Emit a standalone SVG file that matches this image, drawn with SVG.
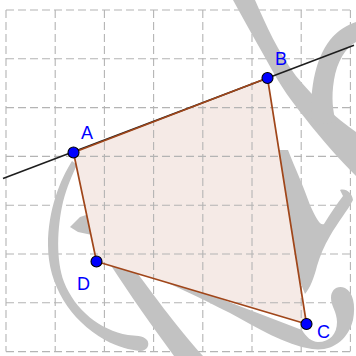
<svg xmlns="http://www.w3.org/2000/svg" xmlns:xlink="http://www.w3.org/1999/xlink" width="356" height="356" viewBox="0 0 356 356">
<style>
.grid line{stroke:#b4b4b4;stroke-width:1.1;stroke-dasharray:8 4}
.wm{fill:#c2c2c2}
.edge{stroke:#a0461a;stroke-width:1.7;fill:none;stroke-linejoin:round}
.pt{fill:#0000ff;stroke:#000;stroke-width:1.1}
.lbl{font-family:"Liberation Sans",Arial,sans-serif;font-size:18px;fill:#0000ff}
</style>
<defs>
<g id="gridlines" class="grid">
<line x1="6" y1="10" x2="6" y2="351.6"/>
<line x1="55.2" y1="10" x2="55.2" y2="351.6"/>
<line x1="104.4" y1="10" x2="104.4" y2="351.6"/>
<line x1="153.6" y1="10" x2="153.6" y2="351.6"/>
<line x1="202.8" y1="10" x2="202.8" y2="351.6"/>
<line x1="252" y1="10" x2="252" y2="351.6"/>
<line x1="301.2" y1="10" x2="301.2" y2="351.6"/>
<line x1="350.4" y1="10" x2="350.4" y2="351.6"/>
<line x1="6" y1="10" x2="350.4" y2="10"/>
<line x1="6" y1="58.8" x2="350.4" y2="58.8"/>
<line x1="6" y1="107.6" x2="350.4" y2="107.6"/>
<line x1="6" y1="156.4" x2="350.4" y2="156.4"/>
<line x1="6" y1="205.2" x2="350.4" y2="205.2"/>
<line x1="6" y1="254" x2="350.4" y2="254"/>
<line x1="6" y1="302.8" x2="350.4" y2="302.8"/>
<line x1="6" y1="351.6" x2="350.4" y2="351.6"/>
</g>
<clipPath id="polyclip"><polygon points="73.5,152.5 267.5,78 306.5,324 96.5,261.5"/></clipPath>
</defs>
<rect width="356" height="356" fill="#fff"/>
<use xlink:href="#gridlines"/>
<g id="watermark">
<path class="wm" d="M233,0 L255,0 C266,25 278,52 296,76 C316,100 336,118 356,132 L356,176 C340,160 322,140 305,118 C292,102 280,85 272,70 C258,45 245,22 233,0 Z"/>
<path class="wm" d="M312,125 C309,95 314,60 330,40 C338,30 347,25 356,22 L356,42 C345,48 337,62 334,80 C331,98 333,112 336,122 Z"/>
<path class="wm" d="M276,150 L288,150 C295,168 303,185 310,205 C316,218 320,226 324,224 C330,214 337,204 343,196 L340,190 C346,188 352,193 353,200 C348,210 338,222 330,236 C324,246 320,256 317,266 C314,278 310,288 305,294 C300,282 296,270 293,256 Z"/>
<path class="wm" d="M140,272 C170,283 200,298 230,313 C258,328 285,345 312,349 C332,352 348,340 353,320 C356,305 353,292 345,288 C337,285 331,290 331,298 C331,306 337,312 337,322 C337,334 330,342 318,342 C312,342 306,337 302,330 L140,268 Z"/>
<path class="wm" d="M110,264 L132,266 C150,290 175,325 203,356 L174,356 C155,330 130,295 110,264 Z"/>
<path class="wm" d="M72,161 C60,180 48,210 48,245 C48,285 70,320 105,340 C118,347 130,350 140,351 C148,351 150,344 147,340 C143,335 135,336 128,335 C100,330 75,310 64,282 C56,260 57,228 63,202 C67,187 72,175 77,165 Z"/>
<path class="wm" d="M70,227 L80,217 L92,213 L92,235 L78,232 Z"/>
</g>
<g id="polygon-fill">
<polygon points="73.5,152.5 267.5,78 306.5,324 96.5,261.5" fill="#f5eae6"/>
<use xlink:href="#gridlines" clip-path="url(#polyclip)"/>
</g>
<g id="connectors">
<line x1="3" y1="178.5" x2="354" y2="45.3" stroke="#1e1e1e" stroke-width="1.6"/>
<polygon class="edge" points="73.5,152.5 267.5,78 306.5,324 96.5,261.5"/>
</g>
<g id="A"><circle class="pt" cx="73.5" cy="152.5" r="5.5"/><text class="lbl" x="81" y="139">A</text></g>
<g id="B"><circle class="pt" cx="267.5" cy="78" r="5.5"/><text class="lbl" x="275" y="65">B</text></g>
<g id="C"><circle class="pt" cx="306.5" cy="324" r="5.5"/><text class="lbl" x="317" y="338">C</text></g>
<g id="D"><circle class="pt" cx="96.5" cy="261.5" r="5.5"/><text class="lbl" x="77" y="290">D</text></g>
</svg>
